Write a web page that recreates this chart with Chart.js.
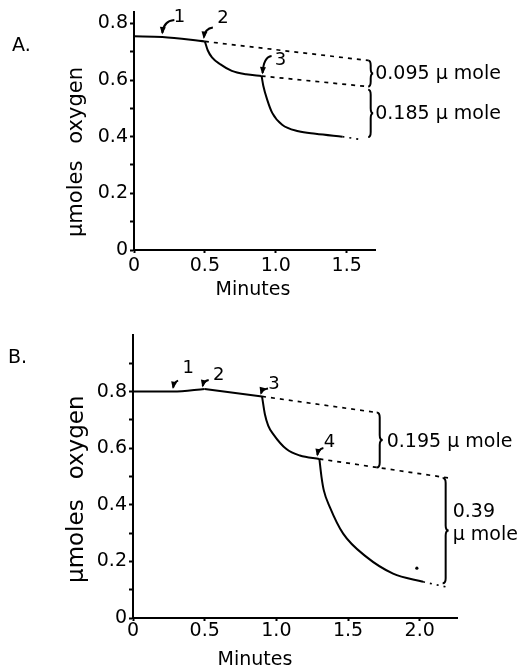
<!DOCTYPE html>
<html><head><meta charset="utf-8">
<script src="https://cdn.jsdelivr.net/npm/chart.js@4.4.1/dist/chart.umd.min.js"></script>
<style>
html,body{margin:0;padding:0;background:#fff;}
#wrap{position:relative;width:520px;height:666px;overflow:hidden;}
canvas{position:absolute;left:0;}
#cA{top:0;} #cB{top:320px;}
</style></head><body>
<div id="wrap"><canvas id="cA"></canvas><canvas id="cB"></canvas></div>
<script>
// ================= DATA: panel A =================
const xTicksA = [0, 0.5, 1.0, 1.5];
const xTickLabelsA = ['0', '0.5', '1.0', '1.5'];
const yTicksA = [0, 0.1, 0.2, 0.3, 0.4, 0.5, 0.6, 0.7, 0.8];
const yTickLabelsA = ['0', '', '0.2', '', '0.4', '', '0.6', '', '0.8'];

const baseTimeA = [0, 0.2, 0.5];
const baseOxyA  = [0.754, 0.752, 0.736];
const add2TimeA = [0.5, 0.52, 0.55, 0.61, 0.69, 0.79, 0.9];
const add2OxyA  = [0.736, 0.705, 0.68, 0.655, 0.632, 0.62, 0.614];
const add3TimeA = [0.9, 0.912, 0.94, 0.975, 1.045, 1.16, 1.28, 1.47];
const add3OxyA  = [0.614, 0.58, 0.53, 0.484, 0.442, 0.419, 0.41, 0.40];
const tailTimeA = [1.47, 1.6];
const tailOxyA  = [0.40, 0.39];
const ext2TimeA = [0.5, 1.652];
const ext2OxyA  = [0.736, 0.669];
const ext3TimeA = [0.9, 1.645];
const ext3OxyA  = [0.614, 0.577];
const braceTimeA = [1.652, 1.652];
const braceTopA  = [0.669, 0.566];
const braceBotA  = [0.577, 0.399];
const braceTextA = [['0.095 μ mole'], ['0.185 μ mole']];
const arrowTimeA = [0.2, 0.5, 0.9];
const arrowOxyA  = [0.752, 0.736, 0.614];
const arrowTextA = ['1', '2', '3'];

// ================= DATA: panel B =================
const xTicksB = [0, 0.5, 1.0, 1.5, 2.0];
const xTickLabelsB = ['0', '0.5', '1.0', '1.5', '2.0'];
const yTicksB = [0, 0.1, 0.2, 0.3, 0.4, 0.5, 0.6, 0.7, 0.8, 0.9];
const yTickLabelsB = ['0', '', '0.2', '', '0.4', '', '0.6', '', '0.8', ''];

const baseTimeB = [0, 0.28, 0.5];
const baseOxyB  = [0.80, 0.80, 0.809];
const add2TimeB = [0.5, 0.9];
const add2OxyB  = [0.809, 0.783];
const add3TimeB = [0.9, 0.92, 0.943, 0.978, 1.07, 1.164, 1.3];
const add3OxyB  = [0.783, 0.72, 0.68, 0.65, 0.597, 0.574, 0.562];
const add4TimeB = [1.3, 1.315, 1.331, 1.373, 1.466, 1.628, 1.814, 2.023];
const add4OxyB  = [0.562, 0.498, 0.451, 0.392, 0.298, 0.216, 0.157, 0.128];
const tailTimeB = [2.023, 2.2];
const tailOxyB  = [0.128, 0.108];
const ext3TimeB = [0.9, 1.70];
const ext3OxyB  = [0.783, 0.726];
const ext4TimeB = [1.3, 2.2];
const ext4OxyB  = [0.562, 0.495];
const markTimeB = [1.98];
const markOxyB  = [0.176];
const braceTimeB = [1.70, 2.16];
const braceTopB  = [0.726, 0.495];
const braceBotB  = [0.532, 0.123];
const braceTextB = [['0.195 μ mole'], ['0.39', 'μ mole']];
const arrowTimeB = [0.28, 0.5, 0.9, 1.3];
const arrowOxyB  = [0.80, 0.809, 0.783, 0.562];
const arrowTextB = ['1', '2', '3', '4'];

// ================= helpers =================
const FONT = '"DejaVu Sans", sans-serif';
Chart.defaults.font.family = FONT;
Chart.defaults.color = '#000';

const pts = (xs, ys) => xs.map((x, i) => ({x, y: ys[i]}));
const solid = (xs, ys) => ({data: pts(xs, ys), borderColor: '#000', borderWidth: 2, pointRadius: 0,
  fill: false, cubicInterpolationMode: 'monotone', clip: false});
const dashed = (xs, ys) => ({data: pts(xs, ys), borderColor: '#000', borderWidth: 1.7, pointRadius: 0,
  fill: false, borderDash: [4, 5], clip: false});
const dotted = (xs, ys) => ({data: pts(xs, ys), borderColor: '#000', borderWidth: 1.7, pointRadius: 0,
  fill: false, borderDash: [2, 5], clip: false});

function drawBrace(ctx, x, y1, y2, w) {
  const ym = (y1 + y2) / 2, q = Math.min(5, (y2 - y1) / 4), xs = x + w * 0.5;
  ctx.beginPath();
  ctx.moveTo(x, y1);
  ctx.quadraticCurveTo(xs, y1, xs, y1 + q);
  ctx.lineTo(xs, ym - q);
  ctx.quadraticCurveTo(xs, ym, x + w, ym);
  ctx.quadraticCurveTo(xs, ym, xs, ym + q);
  ctx.lineTo(xs, y2 - q);
  ctx.quadraticCurveTo(xs, y2, x, y2);
  ctx.stroke();
}
function drawArrow(ctx, tx, ty, hx, hy) {
  const cx = hx + 1, cy = ty + 1;
  ctx.beginPath();
  ctx.moveTo(tx, ty);
  ctx.quadraticCurveTo(cx, cy, hx, hy);
  ctx.stroke();
  let dx = hx - cx, dy = hy - cy; const L = Math.hypot(dx, dy) || 1; dx /= L; dy /= L;
  const s = 6, px = -dy, py = dx;
  ctx.beginPath();
  ctx.moveTo(hx + dx * 1.5, hy + dy * 1.5);
  ctx.lineTo(hx - dx * s + px * s * 0.5, hy - dy * s + py * s * 0.5);
  ctx.lineTo(hx - dx * s - px * s * 0.5, hy - dy * s - py * s * 0.5);
  ctx.closePath();
  ctx.fill();
}

const annotPlugin = {
  id: 'annot',
  afterDraw(chart, args, o) {
    const ctx = chart.ctx, xs = chart.scales.x, ys = chart.scales.y;
    ctx.save();
    ctx.fillStyle = '#000'; ctx.strokeStyle = '#000';
    // arrows
    ctx.lineWidth = 2;
    o.arrowTime.forEach((t, i) => {
      const ax = xs.getPixelForValue(t), ay = ys.getPixelForValue(o.arrowOxy[i]);
      const g = o.arrowGeom[i];
      drawArrow(ctx, ax + g[2], ay + g[3], ax + g[0], ay + g[1]);
      ctx.font = '18px ' + FONT; ctx.textAlign = 'center'; ctx.textBaseline = 'middle';
      ctx.fillText(o.arrowText[i], ax + g[4], ay + g[5]);
    });
    // braces + texts
    ctx.lineWidth = 2;
    o.braceTime.forEach((t, i) => {
      const bx = xs.getPixelForValue(t);
      const y1 = ys.getPixelForValue(o.braceTop[i]), y2 = ys.getPixelForValue(o.braceBot[i]);
      drawBrace(ctx, bx, y1, y2, o.braceW);
      ctx.font = '19px ' + FONT; ctx.textAlign = 'left'; ctx.textBaseline = 'middle';
      const lines = o.braceText[i], off = o.braceTextOff[i];
      lines.forEach((s, k) => ctx.fillText(s, bx + o.textGap, (y1 + y2) / 2 + off[k]));
    });
    // x title
    ctx.font = '19px ' + FONT; ctx.textAlign = 'center'; ctx.textBaseline = 'middle';
    ctx.fillText('Minutes', o.xTitle[0], o.xTitle[1]);
    // y title (rotated, two words, starts at bottom)
    ctx.save();
    ctx.translate(o.yTitle[0], o.yTitle[1]); ctx.rotate(-Math.PI / 2);
    ctx.font = o.yTitle[2] + 'px ' + FONT; ctx.textAlign = 'left'; ctx.textBaseline = 'middle';
    const w1 = ctx.measureText('μmoles').width;
    ctx.fillText('μmoles', 0, 0);
    ctx.fillText('oxygen', w1 + o.yTitle[3], 0);
    ctx.restore();
    // panel letter
    ctx.textAlign = 'left'; ctx.font = '19px ' + FONT;
    ctx.fillText(o.panel, o.panelPos[0], o.panelPos[1]);
    ctx.restore();
  }
};

function makeChart(id, W, H, area, xMax, yMax, xT, xL, yT, yL, xPad, datasets, annot) {
  const cv = document.getElementById(id);
  cv.width = W; cv.height = H; cv.style.width = W + 'px'; cv.style.height = H + 'px';
  return new Chart(cv, {
    type: 'line',
    data: {datasets},
    options: {
      responsive: false, animation: false, devicePixelRatio: 1,
      layout: {padding: {left: 0, top: area.top, right: W - area.right, bottom: 0}},
      plugins: {legend: {display: false}, tooltip: {enabled: false}, annot},
      scales: {
        x: {
          type: 'linear', min: 0, max: xMax,
          afterBuildTicks: s => { s.ticks = xT.map(v => ({value: v})); },
          afterFit: s => { s.height = H - area.bottom; },
          ticks: {callback: (v, i) => xL[i], font: {size: 19, lineHeight: 1}, padding: xPad, maxRotation: 0, autoSkip: false, color: '#000'},
          grid: {drawOnChartArea: false, drawTicks: true, tickLength: 3, tickWidth: 2, tickColor: '#000'},
          border: {color: '#000', width: 2}
        },
        y: {
          type: 'linear', min: 0, max: yMax,
          afterBuildTicks: s => { s.ticks = yT.map(v => ({value: v})); },
          afterFit: s => { s.width = area.left; },
          ticks: {callback: (v, i) => yL[i], font: {size: 19, lineHeight: 1}, padding: 2, autoSkip: false, color: '#000'},
          grid: {drawOnChartArea: false, drawTicks: true, tickLength: 4, tickWidth: 2, tickColor: '#000'},
          border: {color: '#000', width: 2}
        }
      }
    },
    plugins: [annotPlugin]
  });
}

// ---------- Panel A ----------
makeChart('cA', 520, 320, {left: 134, top: 12, right: 375, bottom: 250}, 1.7, 0.84,
  xTicksA, xTickLabelsA, yTicksA, yTickLabelsA, 4,
  [solid(baseTimeA, baseOxyA), solid(add2TimeA, add2OxyA), solid(add3TimeA, add3OxyA),
   dotted(tailTimeA, tailOxyA), dashed(ext2TimeA, ext2OxyA), dashed(ext3TimeA, ext3OxyA)],
  {arrowTime: arrowTimeA, arrowOxy: arrowOxyA, arrowText: arrowTextA,
   arrowGeom: [[0, -4, 12, -17, 17, -20], [-1, -4, 8, -14, 18, -23], [1, -3, 10, -20, 19, -16]],
   braceTime: braceTimeA, braceTop: braceTopA, braceBot: braceBotA, braceText: braceTextA,
   braceTextOff: [[1], [1]], braceW: 5, textGap: 7,
   xTitle: [253, 290], yTitle: [77, 237, 21, 17], panel: 'A.', panelPos: [12, 46]});

// ---------- Panel B ----------
makeChart('cB', 520, 346, {left: 133, top: 15, right: 457, bottom: 298}, 2.26, 1.0,
  xTicksB, xTickLabelsB, yTicksB, yTickLabelsB, 1,
  [solid(baseTimeB, baseOxyB), solid(add2TimeB, add2OxyB), solid(add3TimeB, add3OxyB),
   solid(add4TimeB, add4OxyB), dotted(tailTimeB, tailOxyB), dashed(ext3TimeB, ext3OxyB),
   dashed(ext4TimeB, ext4OxyB),
   {data: pts(markTimeB, markOxyB), showLine: false, pointRadius: 1.6, pointBackgroundColor: '#000', pointBorderWidth: 0, clip: false}],
  {arrowTime: arrowTimeB, arrowOxy: arrowOxyB, arrowText: arrowTextB,
   arrowGeom: [[0, -4, 5, -11, 15, -23], [-2, -3, 4, -9, 14, -14], [-1, -3, 6, -8, 12, -12], [-2, -4, 4, -11, 10, -17]],
   braceTime: braceTimeB, braceTop: braceTopB, braceBot: braceBotB, braceText: braceTextB,
   braceTextOff: [[2], [-18, 5]], braceW: 6, textGap: 10,
   xTitle: [255, 340], yTitle: [77, 263, 23, 20], panel: 'B.', panelPos: [8, 38]});
</script>
</body></html>
